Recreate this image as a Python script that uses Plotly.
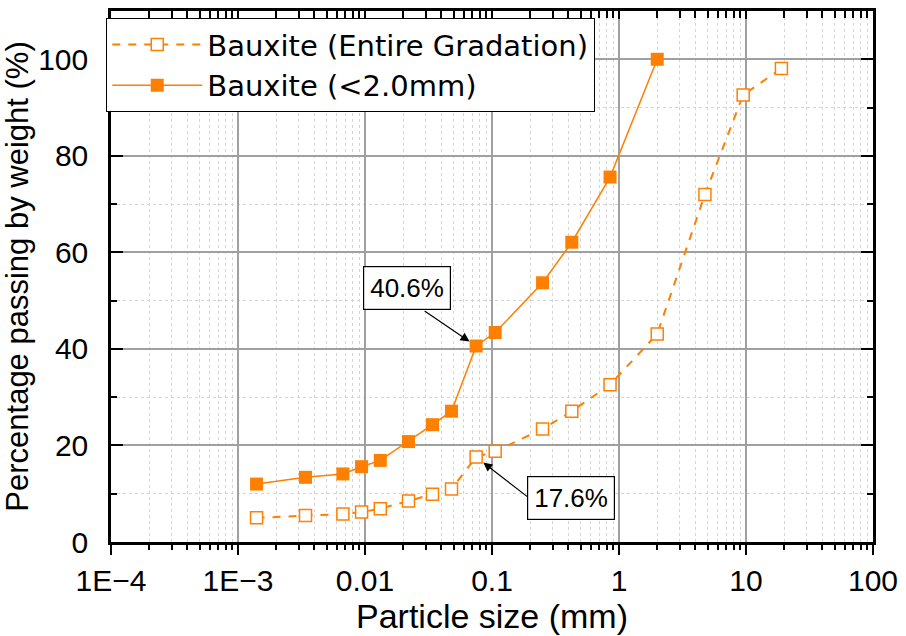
import numpy as np
import plotly.graph_objects as go

# ---- data ----
size_all = [0.0014, 0.0034, 0.0067, 0.0094, 0.0132, 0.022, 0.034, 0.048, 0.075, 0.106,
            0.25, 0.425, 0.85, 2.0, 4.75, 9.5, 19.0]
pass_all = [5.0, 5.5, 5.8, 6.2, 6.9, 8.5, 9.9, 11.0, 17.6, 18.8,
            23.4, 27.1, 32.6, 43.1, 72.0, 92.6, 98.1]
size_fine = [0.0014, 0.0034, 0.0067, 0.0094, 0.0132, 0.022, 0.034, 0.048, 0.075, 0.106,
             0.25, 0.425, 0.85, 2.0]
pass_fine = [12.0, 13.4, 14.1, 15.6, 16.9, 20.8, 24.3, 27.1, 40.6, 43.4,
             53.7, 62.1, 75.6, 100.0]
name_all = "Bauxite (Entire Gradation)"
name_fine = "Bauxite (<2.0mm)"
x_tickvals = [1e-4, 1e-3, 1e-2, 1e-1, 1, 10, 100]
x_ticktext = ["1E\u22124", "1E\u22123", "0.01", "0.1", "1", "10", "100"]
y_tickvals = [0, 20, 40, 60, 80, 100]
ann_idx = 8

ORANGE = "#FF7F00"
FONT = "Liberation Sans"
LFONT = "DejaVu Sans"

fig = go.Figure()
fig.add_trace(go.Scatter(
    x=size_all, y=pass_all, name=name_all, mode="lines+markers",
    line=dict(color=ORANGE, width=2, dash="8px,8px"),
    marker=dict(symbol="square", size=12, color="white",
                line=dict(color=ORANGE, width=1.5)),
))
fig.add_trace(go.Scatter(
    x=size_fine, y=pass_fine, name=name_fine, mode="lines+markers",
    line=dict(color=ORANGE, width=1.5),
    marker=dict(symbol="square", size=13, color=ORANGE, line=dict(width=0)),
))
# invisible helper trace so the top tick axis gets drawn
fig.add_trace(go.Scatter(x=[1], y=[50], xaxis="x2", yaxis="y", mode="none",
                         showlegend=False, hoverinfo="skip"))

xr = [-4, 2]
fig.update_layout(
    width=906, height=636,
    margin=dict(l=111, r=31, t=8, b=94),
    paper_bgcolor="white", plot_bgcolor="white",
    font=dict(family=FONT, color="black"),
    xaxis=dict(
        type="log", range=xr, tickvals=x_tickvals, ticktext=x_ticktext,
        tickfont=dict(size=30, family=FONT),
        title=dict(text="Particle size (mm)", font=dict(size=34, family=FONT), standoff=2),
        showline=True, linecolor="black", linewidth=2.5, mirror=True,
        ticks="outside", ticklen=10, tickwidth=2, tickcolor="black",
        showgrid=True, gridcolor="#a0a0a0", gridwidth=1.5,
        minor=dict(dtick="D1", ticks="outside", ticklen=5, tickwidth=1.5,
                   tickcolor="black", showgrid=True, gridcolor="#d4d4d4",
                   griddash="dot", gridwidth=1),
        zeroline=False,
    ),
    xaxis2=dict(
        type="log", range=xr, overlaying="x", side="top", anchor="y",
        tickvals=x_tickvals, showticklabels=False,
        ticks="inside", ticklen=8, tickwidth=2, tickcolor="black",
        showgrid=False, showline=True, linecolor="black", linewidth=2.5, zeroline=False,
        minor=dict(dtick="D1", ticks="inside", ticklen=7, tickwidth=1.5,
                   tickcolor="black", showgrid=False),
    ),
    yaxis=dict(
        range=[0, 110], tickvals=y_tickvals,
        tickfont=dict(size=30, family=FONT),
        title=dict(text="Percentage passing by weight (%)", font=dict(size=31, family=FONT),
                   standoff=8),
        showline=True, linecolor="black", linewidth=2.5, mirror="ticks",
        ticks="inside", ticklen=12, tickwidth=2, tickcolor="black",
        ticklabelstandoff=14,
        showgrid=True, gridcolor="#a0a0a0", gridwidth=1.5,
        minor=dict(dtick=10, ticks="inside", ticklen=6, tickwidth=1.5,
                   tickcolor="black", showgrid=True, gridcolor="#d4d4d4",
                   griddash="dot", gridwidth=1),
        zeroline=False,
    ),
    legend=dict(
        x=-0.0065, y=0.987, xanchor="left", yanchor="top",
        bgcolor="white", bordercolor="black", borderwidth=1.2,
        font=dict(size=29, family=LFONT), itemwidth=90,
        tracegroupgap=0,
    ),
    showlegend=True,
)

# arrows
fig.add_annotation(x=np.log10(size_fine[ann_idx]), y=pass_fine[ann_idx], xref="x", yref="y",
                   text="", showarrow=True, ax=-53, ay=-36, standoff=8,
                   arrowhead=2, arrowsize=1.5, arrowwidth=1.2, arrowcolor="black")
fig.add_annotation(x=np.log10(size_all[ann_idx]), y=pass_all[ann_idx], xref="x", yref="y",
                   text="", showarrow=True, ax=53, ay=41, standoff=9,
                   arrowhead=2, arrowsize=1.5, arrowwidth=1.2, arrowcolor="black")
# label boxes
fig.add_annotation(x=0.389, y=0.478, xref="paper", yref="paper",
                   xanchor="center", yanchor="middle",
                   text=f"{pass_fine[ann_idx]}%", showarrow=False,
                   font=dict(size=26, family=FONT), bgcolor="white",
                   bordercolor="black", borderwidth=1.2, borderpad=6)
fig.add_annotation(x=0.6036, y=0.0835, xref="paper", yref="paper",
                   xanchor="center", yanchor="middle",
                   text=f"{pass_all[ann_idx]}%", showarrow=False,
                   font=dict(size=26, family=FONT), bgcolor="white",
                   bordercolor="black", borderwidth=1.2, borderpad=6)

fig.write_html("out.html")
